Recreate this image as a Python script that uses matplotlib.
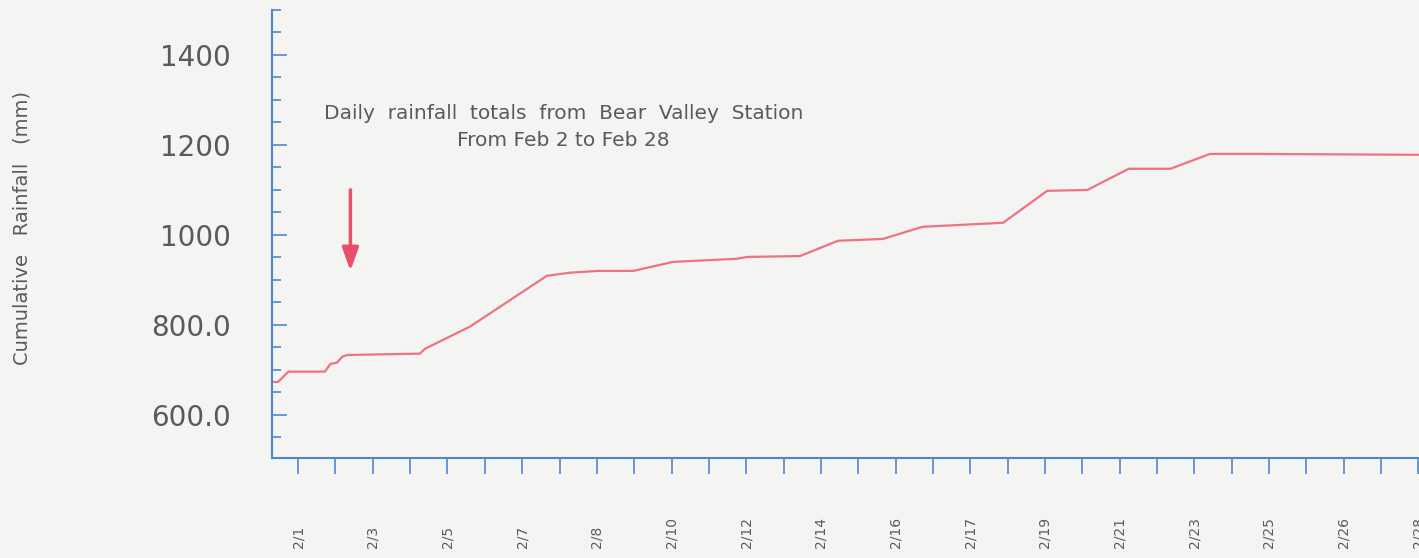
import matplotlib.pyplot as plt
from matplotlib.ticker import MultipleLocator

# x is in tick-label units (0 = "2/1", 1 = "2/3", ...)
date_labels = ['2/1', '2/3', '2/5', '2/7', '2/8', '2/10', '2/12', '2/14',
               '2/16', '2/17', '2/19', '2/21', '2/23', '2/25', '2/26', '2/28']
t = [-0.35, -0.27, -0.13, 0.36, 0.43, 0.52, 0.59, 0.66, 1.63, 1.70, 2.30,
     3.33, 3.64, 4.02, 4.49, 5.02, 5.88, 6.01, 6.72, 7.23, 7.83, 8.36, 9.44,
     10.03, 10.57, 11.12, 11.68, 12.21, 12.88, 15.10]
rain = [673, 673, 696, 696, 713, 716, 729, 733, 736, 747, 796,
        909, 916, 920, 920, 940, 947, 951, 953, 987, 991, 1018, 1027,
        1098, 1100, 1147, 1147, 1180, 1180, 1178]
y_ticks = [600, 800, 1000, 1200, 1400]
y_labels = ['600.0', '800.0', '1000', '1200', '1400']

blue = '#4f88c9'
gray = '#5a5a5a'
bg = '#f4f4f3'

fig = plt.figure(figsize=(14.19, 5.58), dpi=100, facecolor=bg)
ax = fig.add_axes([272 / 1419, 100 / 558, 1168 / 1419, 448 / 558])
ax.set_facecolor(bg)

ax.plot(t, rain, color='#ef7280', lw=1.6)

ax.set_xlim(-0.35, 15.29)
ax.set_ylim(504, 1500)

for s in ['top', 'right']:
    ax.spines[s].set_visible(False)
for s in ['left', 'bottom']:
    ax.spines[s].set_color(blue)
    ax.spines[s].set_linewidth(1.5)

ax.set_yticks(y_ticks)
ax.set_yticklabels(y_labels)
ax.yaxis.set_minor_locator(MultipleLocator(50))
ax.tick_params(axis='y', which='major', direction='in', length=11, width=1.2,
               color=blue, pad=29.5, labelsize=20, labelcolor=gray)
ax.tick_params(axis='y', which='minor', direction='in', length=6.5, width=1.2,
               color=blue)

ax.set_xticks(range(len(date_labels)))
ax.set_xticklabels(date_labels, rotation=90, va='bottom')
ax.xaxis.set_minor_locator(MultipleLocator(0.5))
ax.tick_params(axis='x', which='both', direction='out', length=11.5, width=1.2,
               color=blue)
ax.tick_params(axis='x', which='major', pad=53, labelsize=10, labelcolor=gray)

fig.text(22 / 1419, 1 - 228 / 558, 'Cumulative   Rainfall   (mm)', rotation=90,
         ha='center', va='center', fontsize=14, color=gray)

ax.text(3.55, 1240, 'Daily  rainfall  totals  from  Bear  Valley  Station\nFrom Feb 2 to Feb 28',
        ha='center', va='center', fontsize=14.5, color=gray, linespacing=1.5,
        multialignment='center')

ax.annotate('', xy=(0.70, 920), xytext=(0.70, 1100),
            arrowprops=dict(arrowstyle='-|>,head_length=1.4,head_width=0.5',
                            color='#e8506a', lw=2.5, shrinkA=0, shrinkB=0))

fig.savefig('out.png', dpi=100, facecolor=bg)
